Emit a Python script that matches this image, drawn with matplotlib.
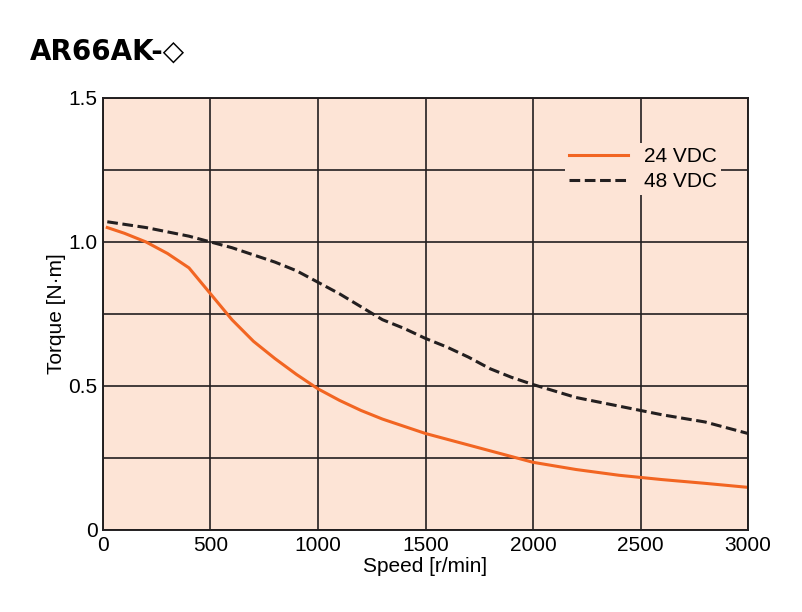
import matplotlib
matplotlib.use("Agg")
import matplotlib.pyplot as plt

plt.rcParams['font.family'] = ['Liberation Sans', 'DejaVu Sans']

speed_24 = [20,100,200,300,400,500,600,700,800,900,1000,1100,1200,1300,1400,1500,1600,1700,1800,1900,2000,2200,2400,2600,2800,3000]
torque_24 = [1.05,1.03,1.0,0.96,0.91,0.82,0.73,0.655,0.595,0.54,0.49,0.45,0.415,0.385,0.36,0.335,0.315,0.295,0.275,0.255,0.235,0.21,0.19,0.175,0.162,0.148]
speed_48 = [20,200,400,500,600,700,800,900,1000,1100,1200,1300,1400,1500,1600,1700,1800,1900,2000,2200,2400,2600,2800,3000]
torque_48 = [1.07,1.05,1.02,1.0,0.98,0.955,0.93,0.9,0.86,0.82,0.775,0.73,0.7,0.665,0.635,0.6,0.56,0.53,0.505,0.46,0.43,0.4,0.375,0.335]
xticks = [0,500,1000,1500,2000,2500,3000]
xlabels = ['0','500','1000','1500','2000','2500','3000']
yticks = [0,0.5,1.0,1.5]
ylabels = ['0','0.5','1.0','1.5']

fig = plt.figure(figsize=(8.02,6.12), dpi=100)
ax = fig.add_axes([0.1284,0.134,0.8043,0.706])
ax.set_facecolor('#fde4d6')
ax.plot(speed_24, torque_24, color='#f26522', lw=2.2, label='24 VDC')
ax.plot(speed_48, torque_48, color='#231f20', lw=2.2, ls=(0,(3.5,1.5)), label='48 VDC')
ax.set_xlim(0,3000); ax.set_ylim(0,1.5)
ax.set_xticks(xticks); ax.set_xticklabels(xlabels, fontsize=15)
ax.set_yticks(yticks); ax.set_yticklabels(ylabels, fontsize=15)
ax.set_yticks([i*0.25 for i in range(7)], minor=True)
ax.grid(True, which='both', color='#231f20', lw=1.2)
ax.tick_params(which='both', length=0, pad=4)
for s in ax.spines.values():
    s.set_linewidth(1.4); s.set_color('#231f20')
ax.set_xlabel('Speed [r/min]', fontsize=15, labelpad=2)
ax.set_ylabel('Torque [N·m]', fontsize=15, labelpad=2)
leg = ax.legend(loc='upper right', bbox_to_anchor=(0.975,0.92), fontsize=15, frameon=True,
                handlelength=2.8, borderpad=0.2, labelspacing=0.3)
leg.get_frame().set_facecolor('#fde4d6'); leg.get_frame().set_edgecolor('none'); leg.get_frame().set_alpha(1)
fig.text(0.037, 0.915, 'AR66AK-◇', fontsize=20, fontweight='bold', family=['DejaVu Sans'], va='center')
fig.savefig('out.png', dpi=100)
